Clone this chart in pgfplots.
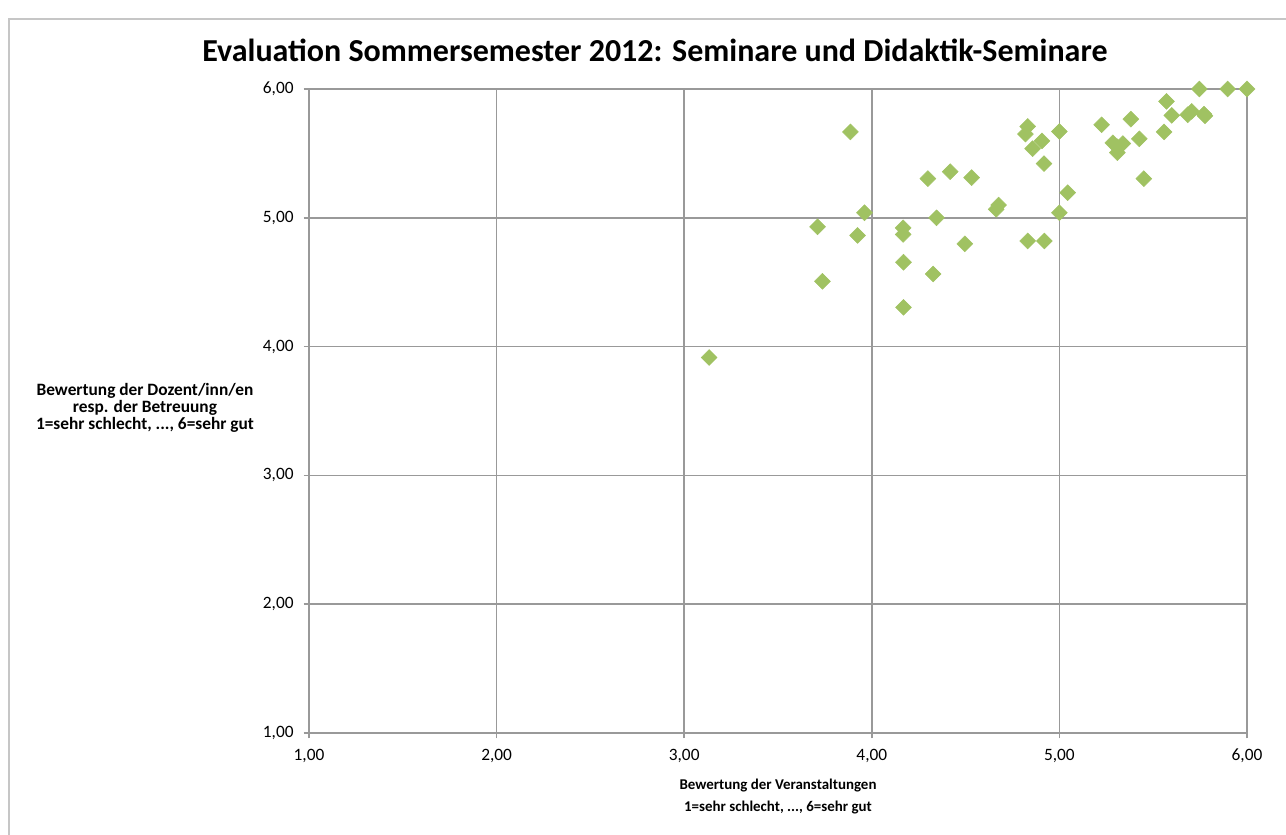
\documentclass[border=0pt]{standalone}
\usepackage{pgfplots}
\pgfplotsset{compat=1.18}
\usepackage{fontspec}
\setmainfont{Carlito}
\definecolor{mk}{HTML}{A0C262}
\definecolor{gridc}{HTML}{999999}
\begin{document}
\begin{tikzpicture}[x=0.75pt,y=0.75pt]
\useasboundingbox (0,0) rectangle (1286,835);
\draw[gray!45, line width=1.2pt] (9,0) -- (9,816) -- (1286,816);
\node[font=\bfseries\fontsize{24}{28}\selectfont] at (655,785) {Evaluation Sommersemester 2012: Seminare und Didaktik-Seminare};
\node[font=\bfseries\fontsize{13}{12.75}\selectfont, align=center] at (145,427) {Bewertung der Dozent/inn/en\\resp. der Betreuung\\1=sehr schlecht, ..., 6=sehr gut};
\node[font=\bfseries\fontsize{11.2}{16.5}\selectfont, align=center] at (778,38) {Bewertung der Veranstaltungen\\1=sehr schlecht, ..., 6=sehr gut};
\begin{axis}[
  at={(231.75pt,76.5pt)}, anchor=south west,
  scale only axis, width=703.5pt, height=483pt,
  xmin=1, xmax=6, ymin=1, ymax=6,
  xtick={1,2,3,4,5,6}, ytick={1,2,3,4,5,6},
  grid=major,
  grid style={gridc, line width=1.2pt},
  axis line style={gridc, line width=1.3pt},
  tick style={gridc, line width=1.1pt},
  tick align=outside, major tick length=4pt,
  xtick pos=bottom, ytick pos=left,
  /pgf/number format/.cd, fixed, fixed zerofill, precision=2, use comma, assume math mode=true,
  /pgfplots/.cd,
  tick label style={font=\fontsize{13}{15}\selectfont},
  xticklabel style={yshift=-4.5pt},
  yticklabel style={xshift=-4pt},
  clip=false,
]
\addplot[only marks, mark=square*, mark size=4.2pt, mark options={rotate=45, fill=mk, draw=mk}] coordinates {
(3.886,5.667) (3.961,5.039) (3.711,4.930) (3.924,4.863) (3.737,4.507)
(4.299,5.304) (4.418,5.358) (4.532,5.312) (4.345,5.000) (4.167,4.922)
(4.167,4.871) (4.496,4.798) (4.169,4.655) (4.327,4.564) (4.169,4.305)
(3.133,3.915)
(5.746,6.0) (5.897,6.0) (6.0,6.0) (5.571,5.904) (5.599,5.795)
(5.684,5.800) (5.705,5.826) (5.771,5.805) (5.776,5.792) (5.381,5.766)
(5.225,5.722) (5.426,5.613) (5.558,5.667) (5.285,5.582) (5.338,5.576)
(5.309,5.551) (5.309,5.506) (5.450,5.304) (5.000,5.670) (4.831,5.709)
(4.819,5.650) (4.907,5.597) (4.857,5.537) (4.918,5.421) (5.044,5.195)
(4.676,5.099) (4.663,5.066) (5.000,5.039) (4.831,4.820) (4.920,4.820)
};
\end{axis}
\end{tikzpicture}
\end{document}
